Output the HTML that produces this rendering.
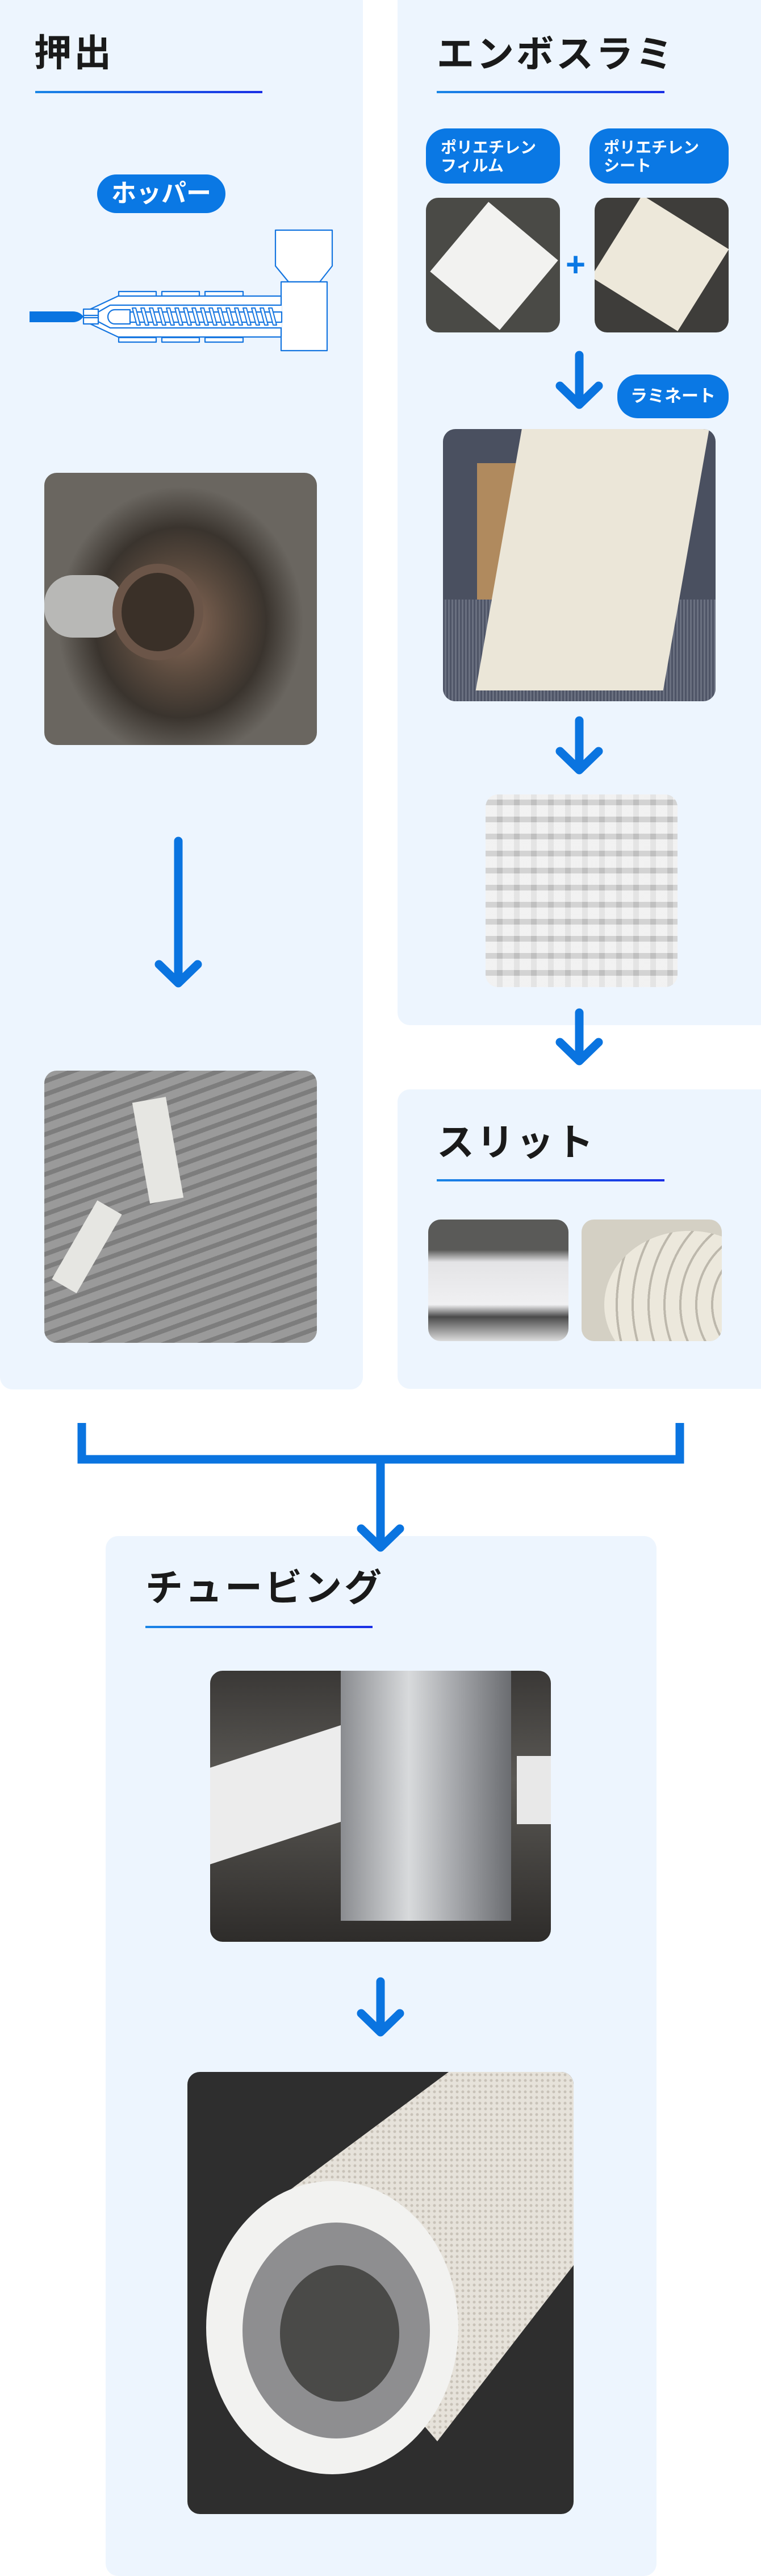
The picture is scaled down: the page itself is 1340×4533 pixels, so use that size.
<!DOCTYPE html>
<html><head><meta charset="utf-8"><style>
*{margin:0;padding:0;box-sizing:border-box}
body{width:1340px;height:4502px;background:#fff;position:relative;overflow:hidden;font-family:"Liberation Sans","Noto Sans CJK JP",sans-serif}
.p{position:absolute;background:#edf5fe;border-radius:22px}
.t{position:absolute;font-size:66px;font-weight:bold;color:#1a1a1a;line-height:1;letter-spacing:4px;white-space:nowrap}
.u{position:absolute;height:4px;background:linear-gradient(90deg,#1a86e6,#1a2ee6)}
.ph{position:absolute;border-radius:22px;overflow:hidden}
.pill{position:absolute;background:#0a78e4;color:#fff;font-weight:bold;border-radius:36px}
</style></head><body>
<div class="p" style="left:0;top:-20px;width:639px;height:2465px"></div>
<div class="p" style="left:700px;top:-20px;width:660px;height:1824px"></div>
<div class="p" style="left:700px;top:1917px;width:660px;height:527px"></div>
<div class="p" style="left:186px;top:2703px;width:970px;height:1830px"></div>

<div class="t" style="left:60px;top:60px">押出</div>
<div class="u" style="left:62px;top:160px;width:400px"></div>
<div class="t" style="left:769px;top:62px">エンボスラミ</div>
<div class="u" style="left:769px;top:160px;width:401px"></div>
<div class="t" style="left:769px;top:1977px">スリット</div>
<div class="u" style="left:769px;top:2075px;width:401px"></div>
<div class="t" style="left:256px;top:2761px">チュービング</div>
<div class="u" style="left:256px;top:2861px;width:400px"></div>

<div class="pill" style="left:171px;top:307px;width:226px;height:68px;font-size:44px;line-height:68px;text-align:center">ホッパー</div>
<div class="pill" style="left:750px;top:226px;width:236px;height:97px;font-size:28px;line-height:32px;padding:18px 0 0 26px">ポリエチレン<br>フィルム</div>
<div class="pill" style="left:1038px;top:226px;width:245px;height:97px;font-size:28px;line-height:32px;padding:18px 0 0 25px">ポリエチレン<br>シート</div>
<div class="pill" style="left:1087px;top:659px;width:196px;height:77px;font-size:30px;line-height:77px;text-align:center">ラミネート</div>

<!-- photos -->
<div class="ph" style="left:78px;top:832px;width:480px;height:479px;background:radial-gradient(ellipse 45% 50% at 50% 55%,#8a6a58 0,#5a4a3e 40%,#3a342e 70%,#6a6660 100%)">
<div style="position:absolute;left:0;top:180px;width:140px;height:110px;border-radius:50px;background:#b8b8b6"></div>
<div style="position:absolute;left:120px;top:160px;width:160px;height:170px;border-radius:50%;background:#3a3028;border:16px solid #6b5548"></div></div>
<div class="ph" style="left:78px;top:1884px;width:480px;height:479px;background:repeating-linear-gradient(160deg,#9a9a9a 0 14px,#7d7d7d 14px 22px)">
<div style="position:absolute;left:170px;top:50px;width:60px;height:180px;background:#e6e6e2;transform:rotate(-10deg)"></div>
<div style="position:absolute;left:50px;top:230px;width:50px;height:160px;background:#e6e6e2;transform:rotate(30deg)"></div></div>

<div class="ph" style="left:750px;top:348px;width:236px;height:237px;background:#4a4a46">
<div style="position:absolute;left:40px;top:40px;width:160px;height:160px;background:#f2f2f0;transform:rotate(40deg)"></div></div>
<div class="ph" style="left:1047px;top:348px;width:236px;height:237px;background:#3e3d3a">
<div style="position:absolute;left:25px;top:30px;width:180px;height:170px;background:#ede8da;transform:rotate(32deg)"></div></div>
<div style="position:absolute;left:996px;top:436px;font-size:60px;line-height:60px;font-weight:bold;color:#0a78e4">+</div>

<div class="ph" style="left:780px;top:755px;width:480px;height:479px;background:#4a5060">
<div style="position:absolute;left:60px;top:60px;width:200px;height:280px;background:#b08a5e"></div>
<div style="position:absolute;left:0;top:300px;width:480px;height:180px;background:repeating-linear-gradient(90deg,#4e5466 0 3px,#6a7080 3px 6px)"></div>
<div style="position:absolute;left:100px;top:-20px;width:330px;height:480px;background:#ebe6d8;transform:skewX(-10deg)"></div></div>
<div class="ph" style="left:855px;top:1398px;width:338px;height:339px;background:repeating-linear-gradient(90deg,#ececec 0 20px,#cacaca 20px 30px),#dcdcdc">
<div style="position:absolute;inset:0;background:repeating-linear-gradient(0deg,rgba(245,245,245,.6) 0 20px,rgba(180,180,180,.45) 20px 30px)"></div></div>
<div class="ph" style="left:754px;top:2146px;width:247px;height:214px;background:linear-gradient(180deg,#5a5a58 0,#5a5a58 25%,#e4e4e6 35%,#f0f0f2 70%,#4a4a4a 80%,#dcdcdc 100%)"></div>
<div class="ph" style="left:1024px;top:2146px;width:247px;height:214px;background:#d4d0c4">
<div style="position:absolute;left:40px;top:20px;width:300px;height:260px;border-radius:50%;background:repeating-radial-gradient(circle at 100% 50%,#ece8dc 0 24px,#bdb8ac 24px 28px)"></div></div>

<div class="ph" style="left:370px;top:2940px;width:600px;height:477px;background:linear-gradient(180deg,#3a3836 0,#5a5854 40%,#2e2c2a 100%)">
<div style="position:absolute;left:0;top:130px;width:250px;height:170px;background:#ececec;transform:skewY(-18deg)"></div>
<div style="position:absolute;left:230px;top:0;width:300px;height:440px;background:linear-gradient(90deg,#8a8c90,#d8dadc 40%,#a0a2a6 70%,#6a6c70)"></div>
<div style="position:absolute;left:540px;top:150px;width:60px;height:120px;background:#e8e8e8"></div></div>
<div class="ph" style="left:330px;top:3646px;width:680px;height:778px;background:#2e2e2e">
<svg width="680" height="778" style="position:absolute;left:0;top:0">
<defs><pattern id="d" width="10" height="10" patternUnits="userSpaceOnUse"><rect width="10" height="10" fill="#e6e2da"/><circle cx="5" cy="5" r="2.5" fill="#c8c2b8"/></pattern></defs>
<polygon points="110,260 460,0 680,0 680,340 440,650" fill="url(#d)"/>
<ellipse cx="255" cy="450" rx="222" ry="258" fill="#f2f2f0"/>
<ellipse cx="262" cy="455" rx="165" ry="190" fill="#8e8e90"/>
<ellipse cx="268" cy="460" rx="105" ry="120" fill="#4a4a48"/>
</svg></div>

<svg style="position:absolute;left:0;top:0" width="1340" height="4502" fill="none" stroke-linecap="round" stroke-linejoin="round">
<g stroke="#0a74e0" stroke-width="15">
<path d="M314 1480V1730M280 1697L314 1730L348 1697"/>
<path d="M1020 625V712M986 679L1020 712L1054 679"/>
<path d="M1020 1268V1355M986 1322L1020 1355L1054 1322"/>
<path d="M1020 1782V1867M986 1834L1020 1867L1054 1834"/>
<path d="M670 3487V3576M636 3543L670 3576L704 3543"/>
<path d="M670 2568V2723M636 2690L670 2723L704 2690"/>
<path d="M144 2504V2568H1197V2504" stroke-linecap="butt" stroke-linejoin="miter"/>
</g>
<g stroke="#1676e0" stroke-width="2.2" fill="#fff" stroke-linecap="butt">
<path d="M485 405H585V468L563 496H508L485 468Z"/>
<rect x="495" y="496" width="81" height="121"/>
<rect x="209" y="513" width="66" height="8"/><rect x="285" y="513" width="66" height="8"/><rect x="361" y="513" width="67" height="8"/>
<rect x="209" y="594" width="66" height="8"/><rect x="285" y="594" width="66" height="8"/><rect x="361" y="594" width="67" height="8"/>
<path d="M495 521H208L159 544V570L208 593H495Z"/>
<path d="M496 537H194L173 549V566L194 577H496"/>
<rect x="147" y="544" width="26" height="26"/>
<path d="M147 555H173M147 559H173" fill="none"/>
<path d="M229 545H202A12 12.5 0 0 0 202 570H229Z"/>
<rect x="229" y="549" width="267" height="18"/>
</g>
<g stroke="#1676e0" stroke-width="2" fill="#fff">
<path d="M233 542h6l8 30h-6z M248 542h6l8 30h-6z M263 542h6l8 30h-6z M278 542h6l8 30h-6z M293 542h6l8 30h-6z M308 542h6l8 30h-6z M323 542h6l8 30h-6z M338 542h6l8 30h-6z M353 542h6l8 30h-6z M368 542h6l8 30h-6z M383 542h6l8 30h-6z M398 542h6l8 30h-6z M413 542h6l8 30h-6z M428 542h6l8 30h-6z M443 542h6l8 30h-6z M458 542h6l8 30h-6z M473 542h6l8 30h-6z"/>
</g>
<path d="M52 548H128Q140 548 147 557Q140 567 128 567H52Z" fill="#0a74e0"/>
</svg>
</body></html>
